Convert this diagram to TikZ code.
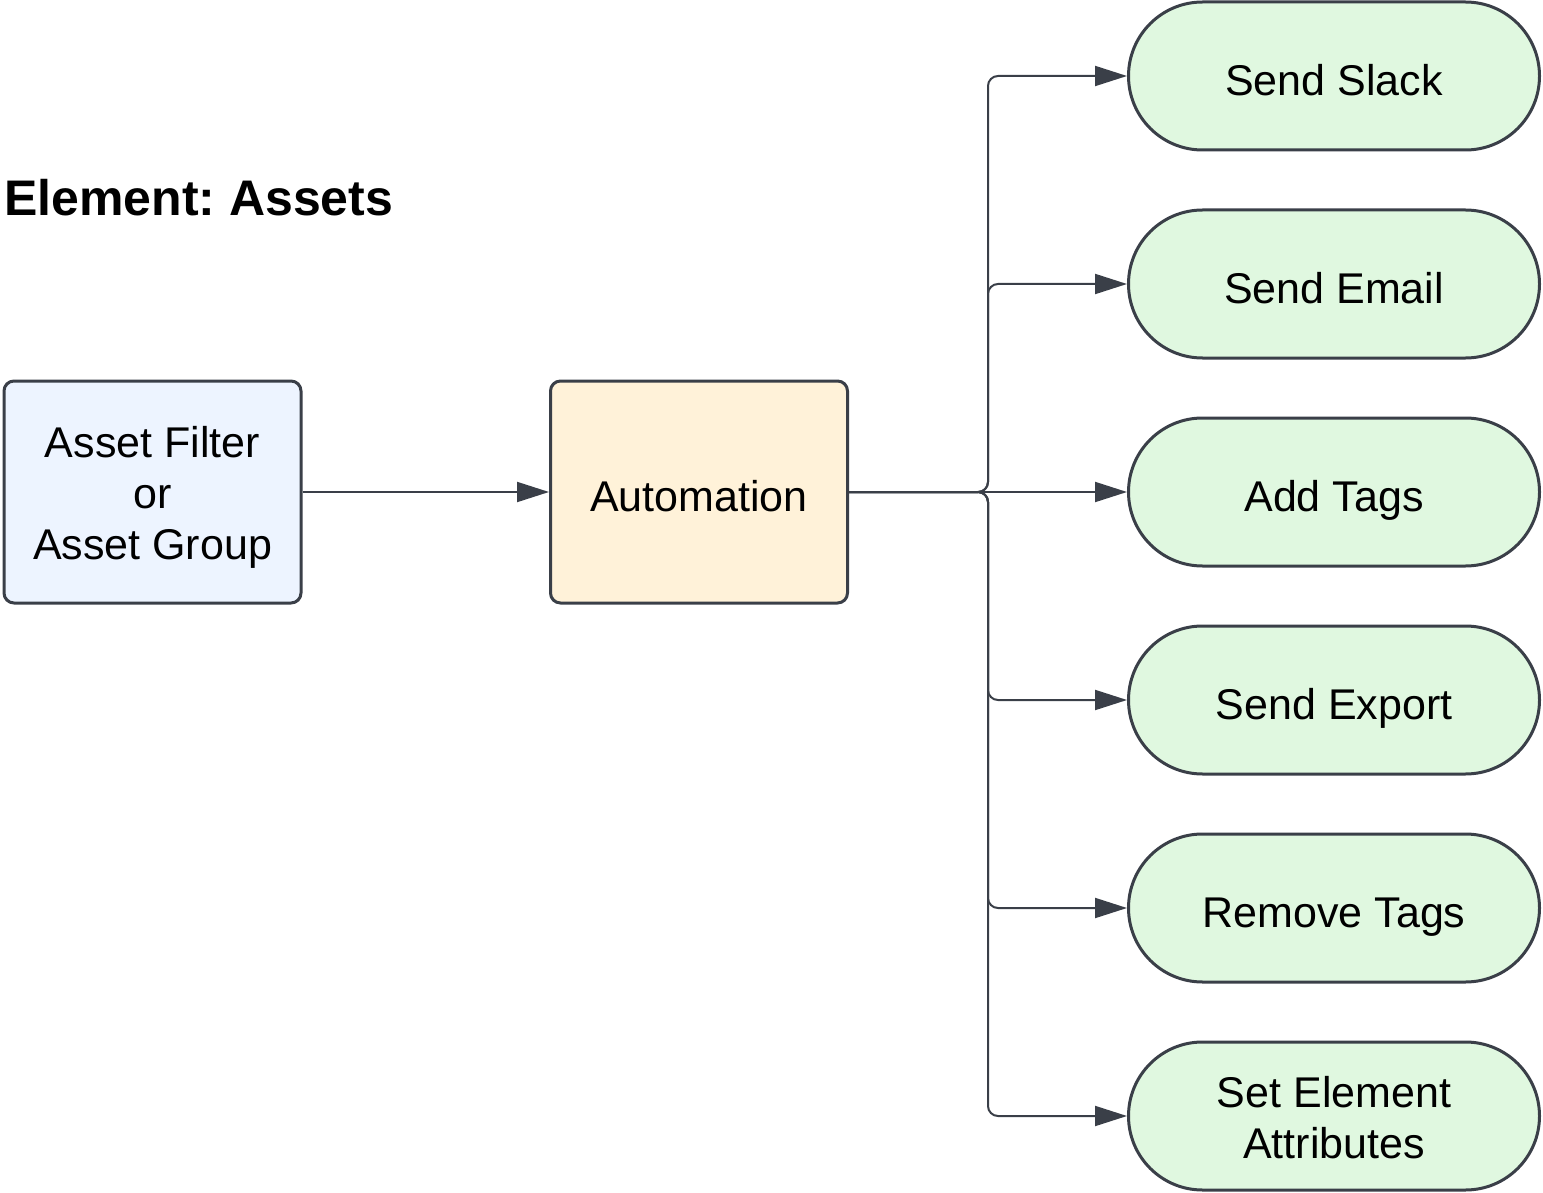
\documentclass[tikz,border=0pt]{standalone}
\usepackage{fontspec}
\setmainfont{Liberation Sans}
\usepackage{tikz}
\usetikzlibrary{arrows.meta, calc, positioning}
\definecolor{edge}{HTML}{3A3F48}
\definecolor{srcfill}{HTML}{EDF4FF}
\definecolor{autofill}{HTML}{FFF2D9}
\definecolor{actfill}{HTML}{E0F8E0}
\frenchspacing
\tikzset{
  box/.style    = {draw=edge, line width=3pt, rounded corners=10pt,
                   minimum width=297pt, minimum height=222pt, align=center,
                   font=\fontsize{43}{51}\selectfont},
  action/.style = {draw=edge, line width=3pt, fill=actfill, rounded corners=74pt,
                   minimum width=411pt, minimum height=148pt, align=center,
                   font=\fontsize{43}{51}\selectfont},
  oneline/.style = {text height=44pt, text depth=5pt},
  conn/.style   = {-{Triangle[length=32pt, width=20pt]}, line width=2pt, draw=edge,
                   rounded corners=10pt},
  heading/.style = {font=\fontsize{50}{60}\selectfont\bfseries, inner sep=0pt},
}

\begin{document}
\begin{tikzpicture}[x=1pt, y=-1pt]
  \useasboundingbox (0,0) rectangle (1543,1193);
  \node[heading, anchor=base west] (title) at (4,216) {Element: Assets};

  % source and automation
  \node[box, fill=srcfill, text height=140pt, text depth=6pt] (filter) at (152.5,492)
    {Asset Filter\\or\\Asset Group};
  \node[box, oneline, fill=autofill] (auto) at (699,492) {Automation};

  % actions
  \node[action, oneline] (slack)  at (1334,76)   {Send Slack};
  \node[action, oneline] (email)  at (1334,284)  {Send Email};
  \node[action, oneline] (tags)   at (1334,492)  {Add Tags};
  \node[action, oneline] (export) at (1334,700)  {Send Export};
  \node[action, oneline] (untag)  at (1334,908)  {Remove Tags};
  \node[action, text height=90pt, text depth=6pt] (attrs) at (1334,1116)
    {Set Element\\Attributes};

  \coordinate (split) at (988,492);

  \draw[conn] (filter.east) -- (auto.west);
  \draw[conn] (auto.east) -- (tags.west);
  \foreach \tgt in {slack, email, export, untag, attrs}
    \draw[conn] (auto.east) -- (split) |- (\tgt.west);
\end{tikzpicture}
\end{document}
